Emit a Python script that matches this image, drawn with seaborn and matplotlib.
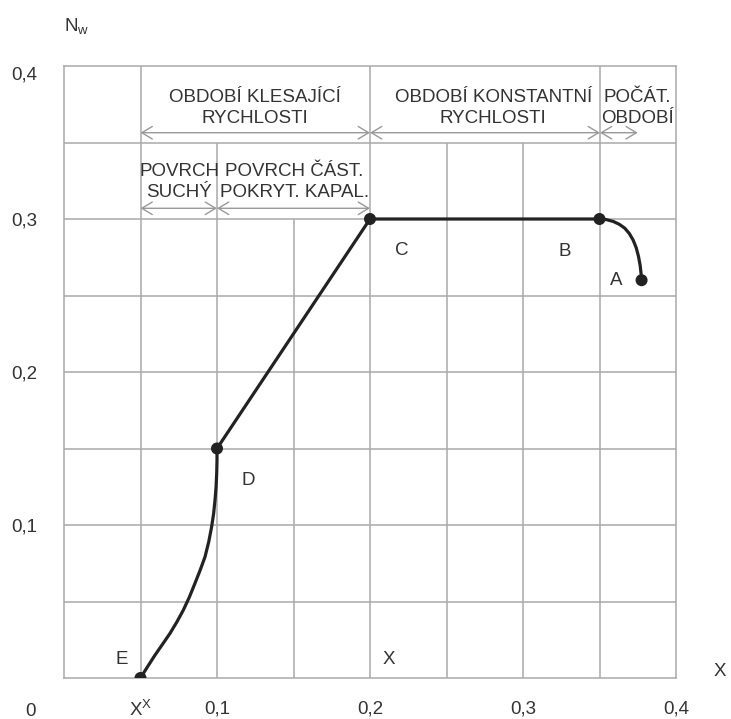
import pandas as pd
import seaborn as sns
import matplotlib.pyplot as plt

# curve E -> D (falling-rate period, dry surface)
ed_x = [0.0500, 0.0545, 0.0595, 0.0645, 0.0693, 0.0738, 0.0780, 0.0820, 0.0856, 0.0890,
        0.0922, 0.0946, 0.0965, 0.0978, 0.0987, 0.0994, 0.0998, 0.1000, 0.1000]
ed_y = [0.0000, 0.0072, 0.0150, 0.0222, 0.0292, 0.0367, 0.0444, 0.0530, 0.0619, 0.0705,
        0.0793, 0.0890, 0.0989, 0.1075, 0.1163, 0.1250, 0.1338, 0.1420, 0.1500]
# straight part D -> C -> B
dcb_x = [0.100, 0.200, 0.350]
dcb_y = [0.150, 0.300, 0.300]
# initial period B -> A
ba_x = [0.3500, 0.3545, 0.3590, 0.3630, 0.3665, 0.3695, 0.3720, 0.3740, 0.3755, 0.3766,
        0.3772, 0.3775]
ba_y = [0.3000, 0.2996, 0.2984, 0.2965, 0.2940, 0.2905, 0.2862, 0.2812, 0.2755, 0.2695,
        0.2640, 0.2600]

pt_names = ['E', 'D', 'C', 'B', 'A']
pt_x = [0.050, 0.100, 0.200, 0.350, 0.3775]
pt_y = [0.000, 0.150, 0.300, 0.300, 0.260]

xtick_vals = [0.05, 0.1, 0.2, 0.3, 0.4]
xtick_text = ['', '0,1', '0,2', '0,3', '0,4']
ytick_vals = [0.1, 0.2, 0.3, 0.4]
ytick_text = ['0,1', '0,2', '0,3', '0,4']

# grid: x position and how high the line goes
vgrid_x = [0.05, 0.10, 0.15, 0.20, 0.25, 0.30, 0.35]
vgrid_top = [0.40, 0.35, 0.30, 0.40, 0.35, 0.35, 0.40]
hgrid_y = [0.05, 0.10, 0.15, 0.20, 0.25, 0.30, 0.35]

sns.set_style('white')
plt.rcParams['font.family'] = ['Liberation Sans', 'DejaVu Sans']

txt = '#333333'
gcol = '#aaaaaa'
fs = 13.5

fig = plt.figure(figsize=(7.31, 7.19), dpi=100)
ax = fig.add_axes([64 / 731, 41 / 719, 612 / 731, 612 / 719])

ax.vlines(vgrid_x, 0, vgrid_top, color=gcol, lw=1.1, zorder=1)
ax.hlines(hgrid_y, 0, 0.4, color=gcol, lw=1.1, zorder=1)

segs = pd.concat([
    pd.DataFrame({'x': ed_x, 'y': ed_y, 'seg': 'ED'}),
    pd.DataFrame({'x': dcb_x, 'y': dcb_y, 'seg': 'DCB'}),
    pd.DataFrame({'x': ba_x, 'y': ba_y, 'seg': 'BA'}),
])
sns.lineplot(data=segs, x='x', y='y', units='seg', estimator=None, sort=False,
             color='#222222', lw=2.3, ax=ax, zorder=3)
sns.scatterplot(x=pt_x, y=pt_y, color='#222222', s=75, edgecolor='none', ax=ax, zorder=4)

ax.set_xlim(0, 0.4)
ax.set_ylim(0, 0.4)
for s in ax.spines.values():
    s.set_color(gcol)
    s.set_linewidth(1.1)
ax.set_xticks(xtick_vals, xtick_text)
ax.set_yticks(ytick_vals, ytick_text)
ax.tick_params(length=0, labelsize=fs, labelcolor=txt)
ax.tick_params(axis='x', pad=16)
ax.tick_params(axis='y', pad=19)
ax.get_yticklabels()[-1].set_va('top')
ax.set_xlabel('')
ax.set_ylabel('')

# axis captions
ax.text(-0.054, -0.0621, '0', transform=ax.transAxes, ha='center', va='baseline', fontsize=fs, color=txt)
ax.text(0.125, -0.0621, 'X$^{\\mathregular{X}}$', transform=ax.transAxes, ha='center', va='baseline',
        fontsize=fs, color=txt)
ax.text(1.072, 0.010, 'X', transform=ax.transAxes, ha='center', va='center', fontsize=fs, color=txt)
ax.text(0.0, 1.064, 'N$_{\\mathregular{w}}$', transform=ax.transAxes, ha='left', va='center', fontsize=fs, color=txt)

# point labels
lab_x = [0.0377, 0.1205, 0.2207, 0.3275, 0.3612, 0.2124]
lab_y = [0.0118, 0.1294, 0.2797, 0.2786, 0.2597, 0.0118]
for name, lx, ly in zip(['E', 'D', 'C', 'B', 'A', 'X'], lab_x, lab_y):
    ax.text(lx, ly, name, ha='center', va='center', fontsize=fs, color=txt)

# period headers
heads = [
    ('OBDOBÍ KLESAJÍCÍ\nRYCHLOSTI', 0.1248, 0.3725),
    ('OBDOBÍ KONSTANTNÍ\nRYCHLOSTI', 0.2805, 0.3725),
    ('POČÁT.\nOBDOBÍ', 0.3748, 0.3725),
    ('POVRCH\nSUCHÝ', 0.0752, 0.3240),
    ('POVRCH ČÁST.\nPOKRYT. KAPAL.', 0.1505, 0.3240),
]
for t, hx, hy in heads:
    ax.text(hx, hy, t, ha='center', va='center', fontsize=fs, color=txt,
            linespacing=1.3, zorder=5)

arrows = [(0.05, 0.20, 0.3564), (0.20, 0.3503, 0.3564), (0.3503, 0.375, 0.3564),
          (0.05, 0.10, 0.307), (0.10, 0.20, 0.307)]
for a0, a1, ay in arrows:
    ax.annotate('', xy=(a1, ay), xytext=(a0, ay),
                arrowprops=dict(arrowstyle='<->,head_length=0.75,head_width=0.45',
                                color='#999999', lw=1.0, shrinkA=0, shrinkB=0,
                                mutation_scale=10))

fig.savefig('out.png', dpi=100)
